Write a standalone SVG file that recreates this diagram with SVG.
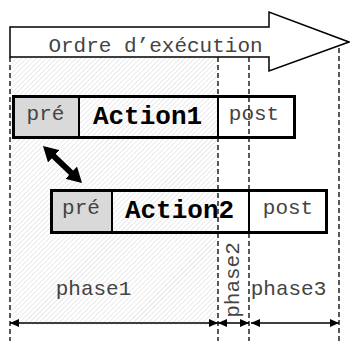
<svg xmlns="http://www.w3.org/2000/svg" width="350" height="341" viewBox="0 0 350 341">
<style>
.t{font-family:"Liberation Mono","Courier New",monospace;font-size:21px;fill:#444;text-anchor:middle}
.b{font-family:"Liberation Mono","Courier New",monospace;font-size:26px;font-weight:bold;fill:#000;text-anchor:middle}
.dash{stroke:#000;stroke-width:1.3;stroke-dasharray:5,3;fill:none}
.box{fill:none;stroke:#000;stroke-width:3}
.div{stroke:#000;stroke-width:2}
.ph{stroke:#000;stroke-width:1.5;marker-start:url(#ah);marker-end:url(#ah)}
</style>
<defs>
<pattern id="hatch" patternUnits="userSpaceOnUse" width="3.5" height="3.5" patternTransform="rotate(45)">
<line x1="0" y1="0" x2="0" y2="3.5" stroke="#d4d4d4" stroke-width="1"/>
</pattern>
<marker id="ah" markerUnits="userSpaceOnUse" viewBox="0 0 9 8" markerWidth="9" markerHeight="8" refX="9" refY="4" orient="auto-start-reverse">
<path d="M0,0 L9,4 L0,8 z" fill="#000"/>
</marker>
<marker id="big" markerUnits="userSpaceOnUse" viewBox="0 0 15 17" markerWidth="15" markerHeight="17" refX="2" refY="8.5" orient="auto-start-reverse">
<path d="M0,0 L15,8.5 L0,17 z" fill="#000"/>
</marker>
</defs>
<rect x="10" y="57" width="208" height="268" fill="url(#hatch)"/>
<g id="order">
<polygon points="10,27 269,27 269,12 349,42 269,71 269,57 10,57" fill="#fff" stroke="#000" stroke-width="1.5"/>
<text class="t" x="155.5" y="52">Ordre d’exécution</text>
</g>
<g id="action1">
<rect x="13.5" y="96.5" width="65.5" height="41" fill="#d9d9d9"/>
<rect x="218" y="96.5" width="76.5" height="41" fill="#fff"/>
<rect class="box" x="13.5" y="96.5" width="281" height="41"/>
<line class="div" x1="79" y1="96.5" x2="79" y2="137.5"/>
<line class="div" x1="218" y1="96.5" x2="218" y2="137.5"/>
<text class="t" x="45.5" y="120">pré</text>
<text class="b" x="147.5" y="124">Action1</text>
<text class="t" x="254" y="120">post</text>
</g>
<g id="action2">
<rect x="51.5" y="190.5" width="60.5" height="42" fill="#d9d9d9"/>
<rect x="218" y="190.5" width="108.5" height="42" fill="#fff"/>
<rect class="box" x="51.5" y="190.5" width="275" height="42"/>
<line class="div" x1="112" y1="190.5" x2="112" y2="232.5"/>
<line class="div" x1="249" y1="190.5" x2="249" y2="232.5"/>
<text class="t" x="81" y="214">pré</text>
<text class="b" x="179.5" y="218">Action2</text>
<text class="t" x="288" y="214">post</text>
</g>
<g id="guides">
<line class="dash" x1="10" y1="57" x2="10" y2="341"/>
<line class="dash" x1="218" y1="57" x2="218" y2="341"/>
<line class="dash" x1="249" y1="57" x2="249" y2="341"/>
<line class="dash" x1="339" y1="48" x2="339" y2="341"/>
</g>
<g id="phases">
<text class="t" x="93.5" y="295">phase1</text>
<text class="t" transform="translate(239,280) rotate(-90)" x="0" y="0">phase2</text>
<text class="t" x="288.5" y="295">phase3</text>
</g>
<g id="connectors">
<line x1="52.4" y1="154.9" x2="72.6" y2="174.1" stroke="#000" stroke-width="6" marker-start="url(#big)" marker-end="url(#big)"/>
<line class="ph" x1="10" y1="323" x2="218" y2="323"/>
<line class="ph" x1="218" y1="323" x2="249" y2="323"/>
<line class="ph" x1="251" y1="323" x2="339" y2="323"/>
</g>
</svg>
